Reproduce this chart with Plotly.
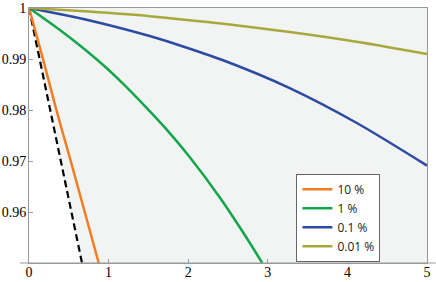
import plotly.graph_objects as go

# Data
x_orange = [0, 0.176, 0.344, 0.524, 0.70, 0.876]
y_orange = [1.0, 0.990, 0.980, 0.970, 0.960, 0.950]

x_green = [0, 0.43, 0.86, 1.206, 1.516, 1.705, 2.018, 2.395, 2.731, 2.93]
y_green = [1.0, 0.9952, 0.9898, 0.9848, 0.9798, 0.9766, 0.9708, 0.9629, 0.9550, 0.950]

x_blue = [0, 0.75, 1.516, 1.868, 2.43, 3.275, 4.113, 5.0]
y_blue = [1.0, 0.9976, 0.9945, 0.9928, 0.9898, 0.9843, 0.9775, 0.9691]

x_olive = [0, 0.75, 1.516, 2.496, 3.275, 4.113, 5.0]
y_olive = [1.0, 0.9993, 0.9984, 0.9968, 0.9953, 0.9934, 0.9910]

x_dash = [0, 0.134, 0.265, 0.40, 0.535, 0.666]
y_dash = [1.0, 0.990, 0.980, 0.970, 0.960, 0.950]

labels = ["10 %", "1 %", "0.1 %", "0.01 %"]
colors = ["#f47c20", "#12a64b", "#2c4ca3", "#a9a83a"]

x_ticks = [0, 1, 2, 3, 4, 5]
y_ticks = [0.96, 0.97, 0.98, 0.99, 1.0]
y_ticklabels = ["0.96", "0.97", "0.98", "0.99", "1"]

SERIF = "Times New Roman, Liberation Serif, DejaVu Serif, serif"

fig = go.Figure()

# shaded region right of the dashed line
fig.add_trace(go.Scatter(
    x=x_dash + [5, 5], y=y_dash + [0.95, 1.0],
    fill="toself", fillcolor="#f2f3f3", line=dict(width=0),
    mode="lines", showlegend=False, hoverinfo="skip"))

fig.add_trace(go.Scatter(
    x=x_dash, y=y_dash, mode="lines",
    line=dict(color="black", width=2.2, dash="7px,4px"),
    showlegend=False))

for xs, ys, lab, col in zip([x_orange, x_green, x_blue, x_olive],
                            [y_orange, y_green, y_blue, y_olive],
                            labels, colors):
    fig.add_trace(go.Scatter(x=xs, y=ys, mode="lines", name=lab,
                             line=dict(color=col, width=2.5, shape="spline",
                                       smoothing=0.8)))

fig.update_layout(
    width=436, height=282,
    margin=dict(l=29, r=9, t=8, b=19, autoexpand=False),
    paper_bgcolor="white", plot_bgcolor="white",
    showlegend=True,
    legend=dict(x=0.672, y=0.177, xanchor="left", yanchor="middle",
                bgcolor="white", bordercolor="#666666", borderwidth=1,
                font=dict(family="Open Sans", size=12, color="#222"),
                tracegroupgap=0, itemwidth=30),
    xaxis=dict(range=[0, 5], tickvals=x_ticks, ticks="inside", ticklen=4,
               tickcolor="#999", showgrid=False, zeroline=False,
               showline=True, linecolor="#999", linewidth=1, mirror=True,
               automargin=False, ticklabelstandoff=-4,
               tickfont=dict(family=SERIF, size=14, color="black")),
    yaxis=dict(range=[0.95, 1.0], tickvals=y_ticks, ticktext=y_ticklabels,
               ticks="inside", ticklen=4, tickcolor="#999", showgrid=False,
               zeroline=False, showline=True, linecolor="#999", linewidth=1,
               mirror=True, automargin=False, ticklabelstandoff=-1,
               tickfont=dict(family=SERIF, size=14, color="black")),
)

fig.add_shape(type="line", xref="paper", yref="paper",
              x0=-0.023, x1=1.022, y0=0, y1=0,
              line=dict(color="#999", width=1))

fig.write_html("out.html", config={"displayModeBar": False},
               post_script="document.body.style.margin='0';")
